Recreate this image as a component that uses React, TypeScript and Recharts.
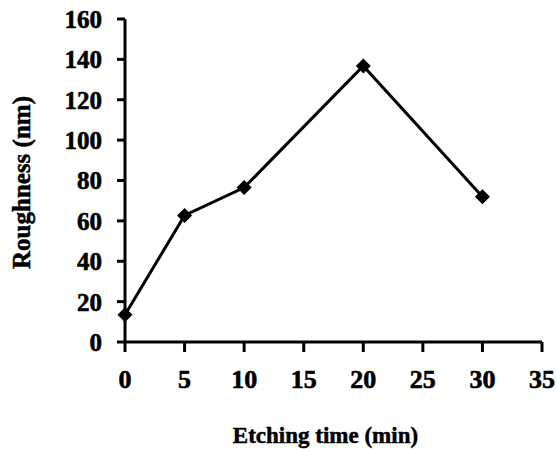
import { LineChart, Line, XAxis, YAxis, Label } from 'recharts'

const etchTimes = [0, 5, 10, 20, 30]
const roughness = [13.5, 62.7, 76.5, 136.7, 72]
const xTicks = [0, 5, 10, 15, 20, 25, 30, 35]
const yTicks = [0, 20, 40, 60, 80, 100, 120, 140, 160]

const data = etchTimes.map((t, i) => ({ t, r: roughness[i] }))

const FONT = '"Liberation Serif", "Times New Roman", serif'

const yTickStyle = { fill: '#000', stroke: '#000', strokeWidth: 0.6, fontSize: 25, fontWeight: 700, fontFamily: FONT }
const xTickStyle = { fill: '#000', stroke: '#000', strokeWidth: 0.6, fontSize: 26, fontWeight: 700, fontFamily: FONT }

const Diamond = (props: any) => {
  const { cx, cy, index } = props
  const s = 7.5
  return (
    <polygon
      key={index}
      points={`${cx},${cy - s} ${cx + s},${cy} ${cx},${cy + s} ${cx - s},${cy}`}
      fill="#000"
    />
  )
}

export default function App() {
  return (
    <div style={{ position: 'absolute', left: 0, top: 0, background: '#fff' }}>
      <LineChart width={557} height={449} data={data} margin={{ top: 19, right: 15, left: 0, bottom: 0 }}>
        <XAxis
          dataKey="t"
          type="number"
          domain={[0, 35]}
          ticks={xTicks}
          height={107}
          tick={xTickStyle}
          tickSize={10}
          tickMargin={18}
          axisLine={{ stroke: '#000', strokeWidth: 3 }}
          tickLine={{ stroke: '#000', strokeWidth: 3 }}
        >
          <Label
            content={(p: any) => {
              const vb = p.viewBox
              return (
                <text
                  x={vb.x + vb.width / 2 - 8}
                  y={443}
                  textAnchor="middle"
                  style={{ fontFamily: FONT, fontWeight: 700, fontSize: 23, fill: '#000', stroke: '#000', strokeWidth: 0.5 }}
                >
                  Etching time (min)
                </text>
              )
            }}
          />
        </XAxis>
        <YAxis
          type="number"
          domain={[0, 160]}
          ticks={yTicks}
          width={125}
          tick={yTickStyle}
          tickSize={8}
          tickMargin={15}
          axisLine={{ stroke: '#000', strokeWidth: 3 }}
          tickLine={{ stroke: '#000', strokeWidth: 3 }}
        >
          <Label
            content={(p: any) => {
              const vb = p.viewBox
              const x = 30
              const y = vb.y + vb.height / 2 + 2
              return (
                <text
                  x={x}
                  y={y}
                  transform={`rotate(-90 ${x} ${y})`}
                  textAnchor="middle"
                  style={{ fontFamily: FONT, fontWeight: 700, fontSize: 25, fill: '#000', stroke: '#000', strokeWidth: 0.5 }}
                >
                  Roughness (nm)
                </text>
              )
            }}
          />
        </YAxis>
        <Line
          dataKey="r"
          stroke="#000"
          strokeWidth={3}
          dot={Diamond}
          activeDot={false}
          isAnimationActive={false}
        />
      </LineChart>
    </div>
  )
}
